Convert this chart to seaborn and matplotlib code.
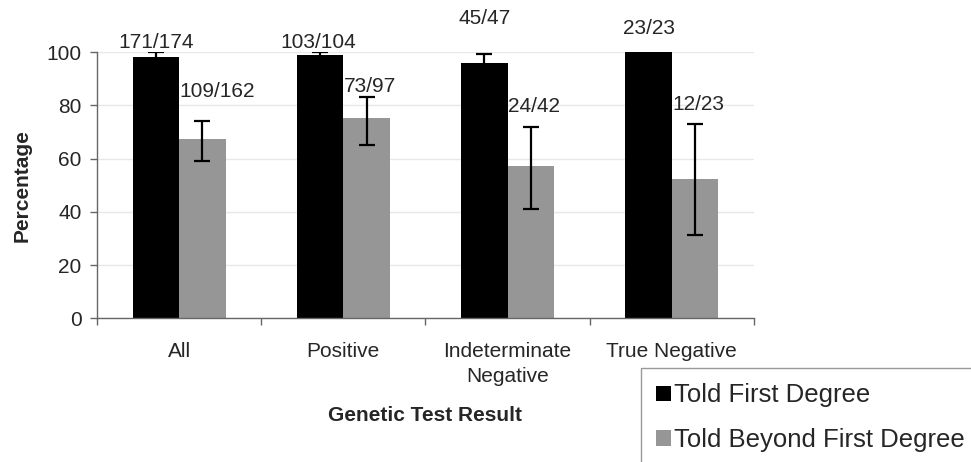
"""Disclosure of genetic test results: told first degree vs beyond first degree."""

import matplotlib
matplotlib.use("Agg")
import matplotlib.pyplot as plt
import numpy as np
import pandas as pd
import seaborn as sns
from matplotlib.ticker import FixedLocator

# --- data ---
categories = ["All", "Positive", "Indeterminate\nNegative", "True Negative"]
groups = ["Told First Degree", "Told Beyond First Degree"]

first_pct = [98.3, 99.0, 95.7, 100.0]
beyond_pct = [67.3, 75.3, 57.1, 52.2]

first_ci_low = [95.1, 94.8, 85.5, 85.2]
first_ci_high = [100.0, 100.0, 99.1, 100.0]
beyond_ci_low = [59.0, 65.0, 40.9, 31.1]
beyond_ci_high = [74.1, 83.1, 72.0, 73.1]

first_counts = ["171/174", "103/104", "45/47", "23/23"]
beyond_counts = ["109/162", "73/97", "24/42", "12/23"]

# label heights (data units) and horizontal nudges (category units)
first_label_y = [103.7, 103.7, 112.5, 108.7]
beyond_label_y = [85.0, 86.9, 79.4, 80.4]
first_label_dx = [0.0, -0.01, 0.0, 0.0]
beyond_label_dx = [0.09, 0.02, 0.02, 0.02]

colors = ["#000000", "#969696"]

df = pd.DataFrame({
    "category": categories * 2,
    "group": [groups[0]] * len(categories) + [groups[1]] * len(categories),
    "pct": first_pct + beyond_pct,
})

sns.set_style("white")
plt.rcParams["font.family"] = ["Liberation Sans", "DejaVu Sans"]

fig = plt.figure(figsize=(9.71, 4.62), dpi=100)
ax = fig.add_axes([0.0999, 0.311, 0.6766, 0.5764])

sns.barplot(
    data=df, x="category", y="pct", hue="group", palette=colors,
    order=categories, hue_order=groups, width=0.566, gap=0,
    errorbar=None, saturation=1, linewidth=0, ax=ax, zorder=2,
)

# error bars and count labels, placed at the drawn bar centres
ci = [(first_ci_low, first_ci_high), (beyond_ci_low, beyond_ci_high)]
vals = [first_pct, beyond_pct]
labels = [first_counts, beyond_counts]
label_y = [first_label_y, beyond_label_y]
label_dx = [first_label_dx, beyond_label_dx]
bar_containers = list(ax.containers)
for k, cont in enumerate(bar_containers):
    xs = np.array([p.get_x() + p.get_width() / 2 for p in cont.patches])
    v = np.array(vals[k])
    lo, hi = np.array(ci[k][0]), np.array(ci[k][1])
    ax.errorbar(xs, v, yerr=[v - lo, hi - v], fmt="none", ecolor="black",
                elinewidth=1.6, capsize=6, capthick=1.6, zorder=3)
    for x, y, dx, txt in zip(xs, label_y[k], label_dx[k], labels[k]):
        ax.text(x + dx, y, txt, ha="center", va="center", fontsize=15,
                clip_on=False)

ax.set_ylim(0, 100)
ax.set_xlim(-0.5, len(categories) - 0.5)
ax.set_yticks([0, 20, 40, 60, 80, 100])
ax.yaxis.grid(True, color="#e8e8e8", linewidth=1, zorder=0)
ax.set_axisbelow(True)

ax.xaxis.set_minor_locator(FixedLocator(np.arange(-0.5, len(categories), 1.0)))
ax.tick_params(axis="x", which="major", length=0, pad=17, labelsize=15)
ax.tick_params(axis="x", which="minor", length=5, width=1, color="#666666",
               direction="out", bottom=True)
ax.tick_params(axis="y", which="major", length=5, width=1, color="#666666",
               direction="out", left=True, pad=6, labelsize=15)
for lbl in ax.get_xticklabels():
    lbl.set_linespacing(1.4)

for side in ["top", "right"]:
    ax.spines[side].set_visible(False)
for side in ["left", "bottom"]:
    ax.spines[side].set_color("#666666")
    ax.spines[side].set_linewidth(1)

ax.set_xlabel("Genetic Test Result", fontsize=15, fontweight="bold")
ax.set_ylabel("Percentage", fontsize=15, fontweight="bold")
ax.xaxis.set_label_coords(0.5, -0.33)
ax.yaxis.set_label_coords(-0.099, 0.5)

handles, names = ax.get_legend_handles_labels()
ax.get_legend().remove()
fig.legend(
    handles, names, loc="upper left",
    bbox_to_anchor=(641 / 971, 1 - 368 / 462), bbox_transform=fig.transFigure,
    fontsize=18.5, frameon=True, fancybox=False, edgecolor="#999999",
    framealpha=1, borderpad=0.6, labelspacing=0.8, handlelength=0.55,
    handleheight=0.55, handletextpad=0.15, borderaxespad=0,
)

fig.savefig("out.png", dpi=100)
